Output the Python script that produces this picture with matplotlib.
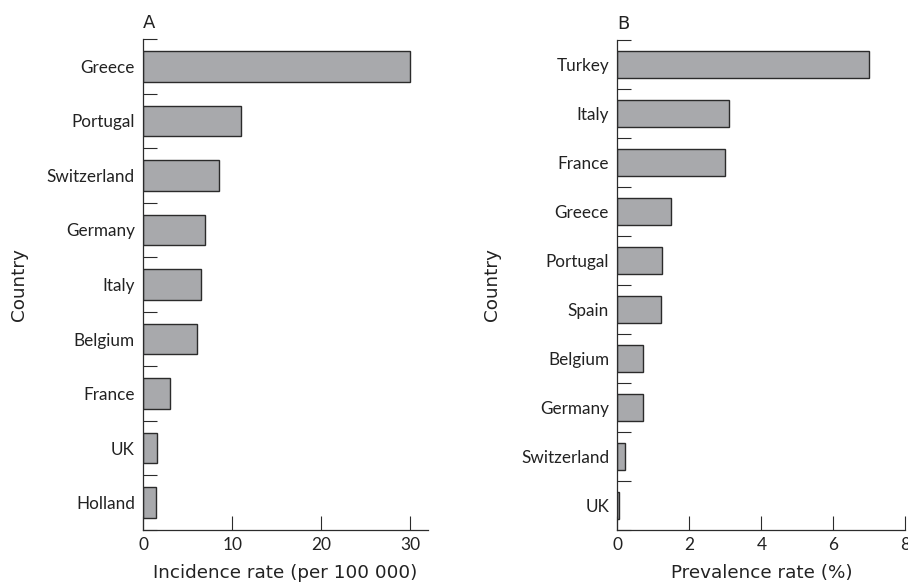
import matplotlib
matplotlib.use("Agg")
import matplotlib.pyplot as plt
import numpy as np

# Panel A: incidence
countries_a = ["Greece", "Portugal", "Switzerland", "Germany", "Italy",
               "Belgium", "France", "UK", "Holland"]
incidence = [30.0, 11.0, 8.5, 6.9, 6.5, 6.0, 3.0, 1.55, 1.45]

# Panel B: prevalence
countries_b = ["Turkey", "Italy", "France", "Greece", "Portugal", "Spain",
               "Belgium", "Germany", "Switzerland", "UK"]
prevalence = [7.0, 3.1, 3.0, 1.5, 1.25, 1.2, 0.7, 0.7, 0.2, 0.04]

plt.rcParams['font.family'] = ['Lato', 'DejaVu Sans']

barColor = '#a8a9ac'
edgeColor = '#2b2b2b'
textColor = '#222222'
wideFont = ['DejaVu Sans']


def drawPanel(ax, names, values, xmax, xticks, xlabel, letter):
    n = len(names)
    ypos = np.arange(n)[::-1]
    ax.barh(ypos, values, height=0.56, color=barColor, edgecolor=edgeColor,
            linewidth=1.0)
    ax.set_ylim(-0.5, n - 0.5)
    ax.set_xlim(0, xmax)

    # category labels in the middle, tick marks between categories
    ax.set_yticks(ypos)
    ax.set_yticklabels(names)
    ax.set_yticks(np.arange(n + 1) - 0.5, minor=True)
    ax.tick_params(axis='y', which='major', length=0, pad=6,
                   labelsize=12.3, labelcolor=textColor)
    ax.tick_params(axis='y', which='minor', direction='in', length=10,
                   width=0.8, color=edgeColor)

    ax.set_xticks(xticks)
    ax.tick_params(axis='x', direction='in', length=10, width=0.8,
                   pad=5, labelsize=12.5, labelcolor=textColor, color=edgeColor)

    for side in ['top', 'right']:
        ax.spines[side].set_visible(False)
    for side in ['left', 'bottom']:
        ax.spines[side].set_linewidth(0.9)
        ax.spines[side].set_color(edgeColor)

    ax.set_xlabel(xlabel, fontsize=13.2, family=wideFont, color=textColor,
                  labelpad=8)
    ax.set_ylabel("Country", fontsize=13.2, family=wideFont, color=textColor)
    ax.text(0.0, 1.014, letter, transform=ax.transAxes, fontsize=13,
            family=wideFont, color=textColor, ha='left', va='bottom')


fig = plt.figure(figsize=(9.08, 5.84), dpi=100)
axA = fig.add_axes([0.1578, 0.0925, 0.3132, 0.8408])
axB = fig.add_axes([0.6799, 0.0925, 0.3172, 0.8390])

drawPanel(axA, countries_a, incidence, 32, [0, 10, 20, 30],
          "Incidence rate (per 100 000)", "A")
drawPanel(axB, countries_b, prevalence, 8, [0, 2, 4, 6, 8],
          "Prevalence rate (%)", "B")

axA.yaxis.set_label_coords(-0.405, 0.5)
axB.yaxis.set_label_coords(-0.403, 0.5)

fig.savefig("out.png", dpi=100)
